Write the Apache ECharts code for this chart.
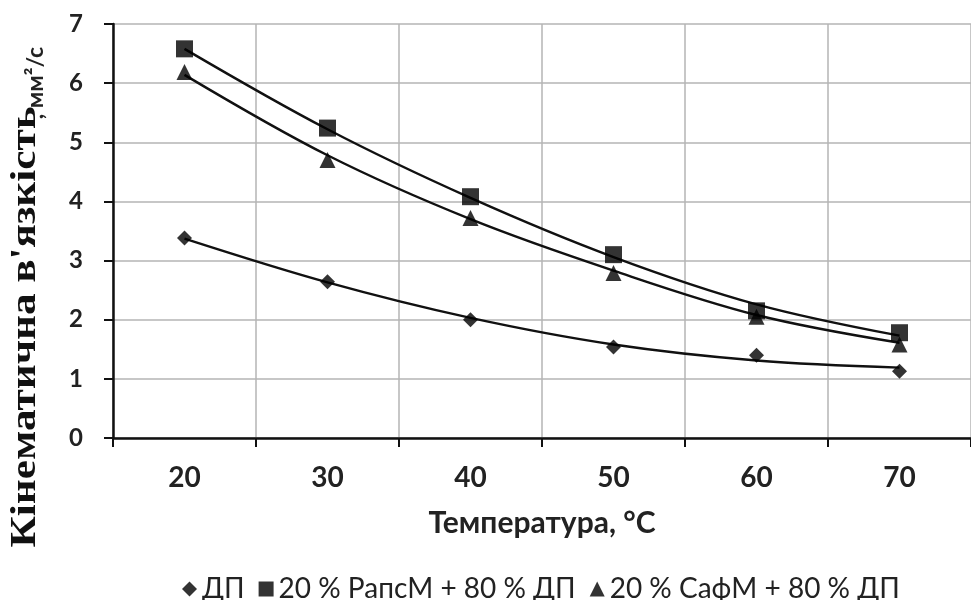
<!DOCTYPE html>
<html>
<head>
<meta charset="utf-8">
<script src="https://cdn.jsdelivr.net/npm/echarts@6/dist/echarts.min.js"></script>
<style>
  html, body { margin: 0; padding: 0; background: #fff; }
  #chart { width: 971px; height: 600px; }
</style>
</head>
<body>
<div id="chart"></div>
<script>
// температура, °C
const temps = ['20', '30', '40', '50', '60', '70']

// виміряні точки
const dpPoints = [3.38, 2.64, 2.0, 1.54, 1.40, 1.13]
const rapsPoints = [6.58, 5.24, 4.08, 3.10, 2.15, 1.78]
const safPoints = [6.19, 4.70, 3.72, 2.79, 2.05, 1.58]

// лінії тренду
const dpTrend = [3.37, 2.63, 2.03, 1.58, 1.31, 1.19]
const rapsTrend = [6.58, 5.22, 4.06, 3.06, 2.26, 1.73]
const safTrend = [6.14, 4.78, 3.70, 2.83, 2.08, 1.61]

const names = ['ДП', '20 % РапсМ + 80 % ДП', '20 % СафМ + 80 % ДП']

const chart = echarts.init(document.getElementById('chart'))

function trend(data) {
  return {
    type: 'line',
    data: data,
    smooth: 0.35,
    symbol: 'none',
    silent: true,
    lineStyle: { color: '#111', width: 2.4 },
    z: 2
  }
}

function points(name, data, symbol, size) {
  return {
    name: name,
    type: 'scatter',
    data: data,
    symbol: symbol,
    symbolSize: size,
    itemStyle: { color: '#000' },
    z: 3
  }
}

const option = {
  animation: false,
  grid: { left: 113, top: 24, right: 0, bottom: 162 },
  xAxis: {
    type: 'category',
    data: temps,
    boundaryGap: true,
    name: 'Температура, °С',
    nameLocation: 'middle',
    nameGap: 70,
    nameTextStyle: { fontFamily: 'Lato', fontWeight: 'bold', fontSize: 30, color: '#222' },
    axisLine: { lineStyle: { color: '#111', width: 2.5 } },
    axisTick: { show: true, length: 9, lineStyle: { color: '#111', width: 2 } },
    axisLabel: { margin: 26, fontFamily: 'Lato', fontWeight: 'bold', fontSize: 28, color: '#222' },
    splitLine: { show: true, lineStyle: { color: '#b5b5b5', width: 1.5 } }
  },
  yAxis: {
    type: 'value',
    min: 0,
    max: 7,
    interval: 1,
    axisLine: { show: true, lineStyle: { color: '#111', width: 2.5 } },
    axisTick: { show: true, length: 9, lineStyle: { color: '#111', width: 2 } },
    axisLabel: { margin: 30, fontFamily: 'Lato', fontWeight: 'bold', fontSize: 24, color: '#222' },
    splitLine: { show: true, lineStyle: { color: '#b5b5b5', width: 1.5 } }
  },
  legend: {
    data: names,
    top: 575,
    left: 182,
    padding: 0,
    itemWidth: 15,
    itemHeight: 15,
    itemGap: 14,
    textStyle: { fontFamily: 'Lato', fontSize: 28, color: '#222', padding: [0, 0, 0, 0] }
  },
  graphic: [{
    type: 'text',
    x: 26,
    y: 327,
    rotation: Math.PI / 2,
    scaleX: 1.2,
    style: {
      text: 'Кінематична в\'язкість',
      align: 'center',
      verticalAlign: 'middle',
      font: 'bold 36px "Liberation Serif"',
      fill: '#111'
    }
  }, {
    type: 'text',
    x: 36,
    y: 83,
    rotation: Math.PI / 2,
    style: {
      text: ', мм²/с',
      align: 'center',
      verticalAlign: 'middle',
      font: 'bold 23px Lato',
      fill: '#222'
    }
  }],
  series: [
    trend(dpTrend),
    trend(rapsTrend),
    trend(safTrend),
    points(names[0], dpPoints, 'diamond', 15),
    points(names[1], rapsPoints, 'rect', 17),
    points(names[2], safPoints, 'triangle', 16)
  ]
}

chart.setOption(option)
</script>
</body>
</html>
